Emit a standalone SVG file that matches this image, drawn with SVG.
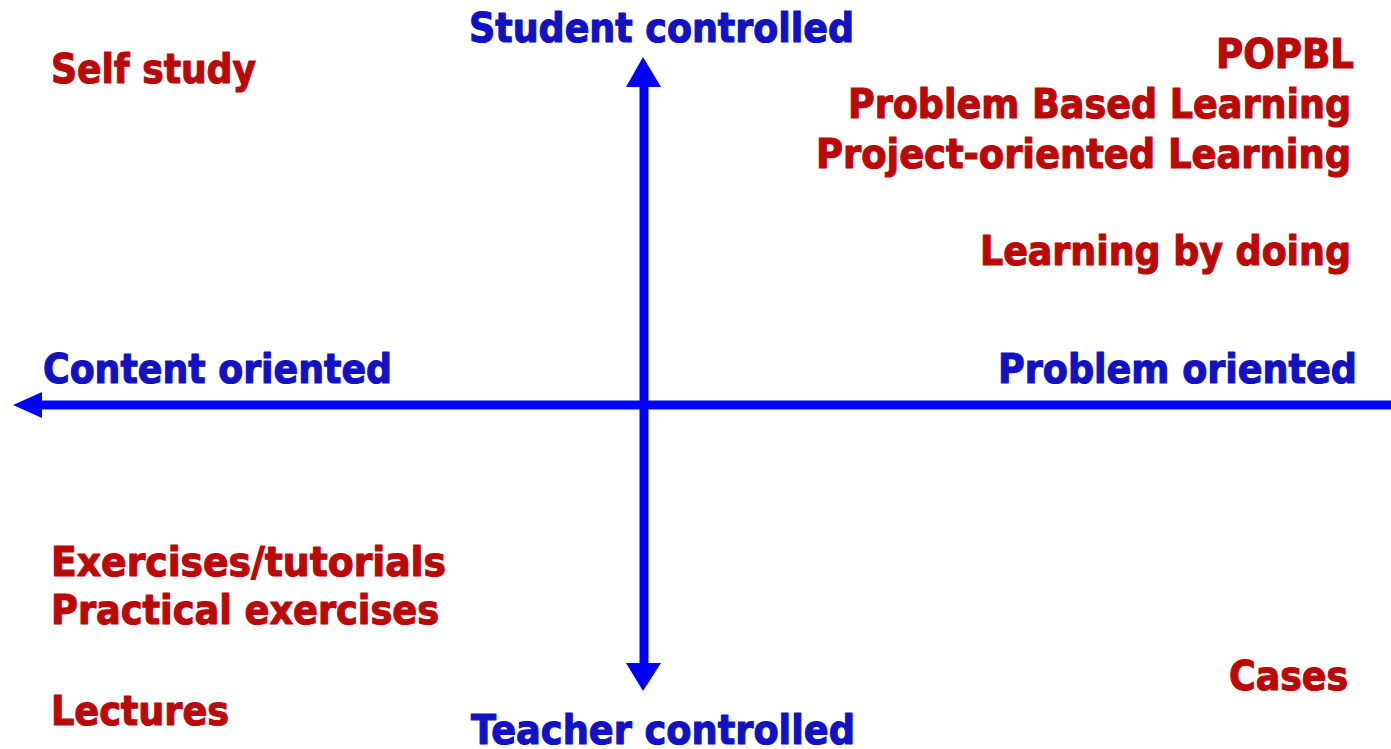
<svg xmlns="http://www.w3.org/2000/svg" width="1391" height="749" viewBox="0 0 1391 749">
  <style>
    text { font-family: "DejaVu Sans", Verdana, sans-serif; font-weight: bold; font-size: 37px; stroke-width: 1.1; stroke-linejoin: round; }
    .axis-label { fill: #1212c4; stroke: #1212c4; }
    .method { fill: #bb0808; stroke: #bb0808; }
    .end { text-anchor: end; }
    .axis { stroke: #0000ff; stroke-width: 9; fill: none; }
    .head { fill: #0000ff; }
  </style>
  <rect width="1391" height="749" fill="#ffffff"/>
  <g id="axes">
    <line class="axis" x1="40" y1="405" x2="1391" y2="405"/>
    <line class="axis" x1="644" y1="84" x2="644" y2="666"/>
    <polygon class="head" points="13,405 42,392 42,418"/>
    <polygon class="head" points="643,57 626,87 661,87"/>
    <polygon class="head" points="643,691 626,663 661,663"/>
  </g>
  <g id="axis-labels">
    <text id="student" class="axis-label" transform="translate(469,42) scale(1,1.1)" textLength="385" lengthAdjust="spacingAndGlyphs">Student controlled</text>
    <text id="teacher" class="axis-label" transform="translate(471,744) scale(1,1.1)" textLength="384" lengthAdjust="spacingAndGlyphs">Teacher controlled</text>
    <text id="content" class="axis-label" transform="translate(43,383) scale(1,1.1)" textLength="349" lengthAdjust="spacingAndGlyphs">Content oriented</text>
    <text id="problem" class="axis-label end" transform="translate(1357,383) scale(1,1.1)" textLength="359" lengthAdjust="spacingAndGlyphs">Problem oriented</text>
  </g>
  <g id="methods">
    <text id="self-study" class="method" transform="translate(51,83) scale(1,1.1)" textLength="205" lengthAdjust="spacingAndGlyphs">Self study</text>
    <text id="popbl" class="method end" transform="translate(1354,68) scale(1,1.1)" textLength="138" lengthAdjust="spacingAndGlyphs">POPBL</text>
    <text id="pbl" class="method end" transform="translate(1351,118) scale(1,1.1)" textLength="503" lengthAdjust="spacingAndGlyphs">Problem Based Learning</text>
    <text id="project" class="method end" transform="translate(1351,168) scale(1,1.1)" textLength="535" lengthAdjust="spacingAndGlyphs">Project-oriented Learning</text>
    <text id="doing" class="method end" transform="translate(1351,265) scale(1,1.1)" textLength="371" lengthAdjust="spacingAndGlyphs">Learning by doing</text>
    <text id="exercises" class="method" transform="translate(51,576) scale(1,1.1)" textLength="395" lengthAdjust="spacingAndGlyphs">Exercises/tutorials</text>
    <text id="practical" class="method" transform="translate(51,624) scale(1,1.1)" textLength="388" lengthAdjust="spacingAndGlyphs">Practical exercises</text>
    <text id="lectures" class="method" transform="translate(51,725) scale(1,1.1)" textLength="178" lengthAdjust="spacingAndGlyphs">Lectures</text>
    <text id="cases" class="method end" transform="translate(1348,690) scale(1,1.1)" textLength="119" lengthAdjust="spacingAndGlyphs">Cases</text>
  </g>
</svg>
